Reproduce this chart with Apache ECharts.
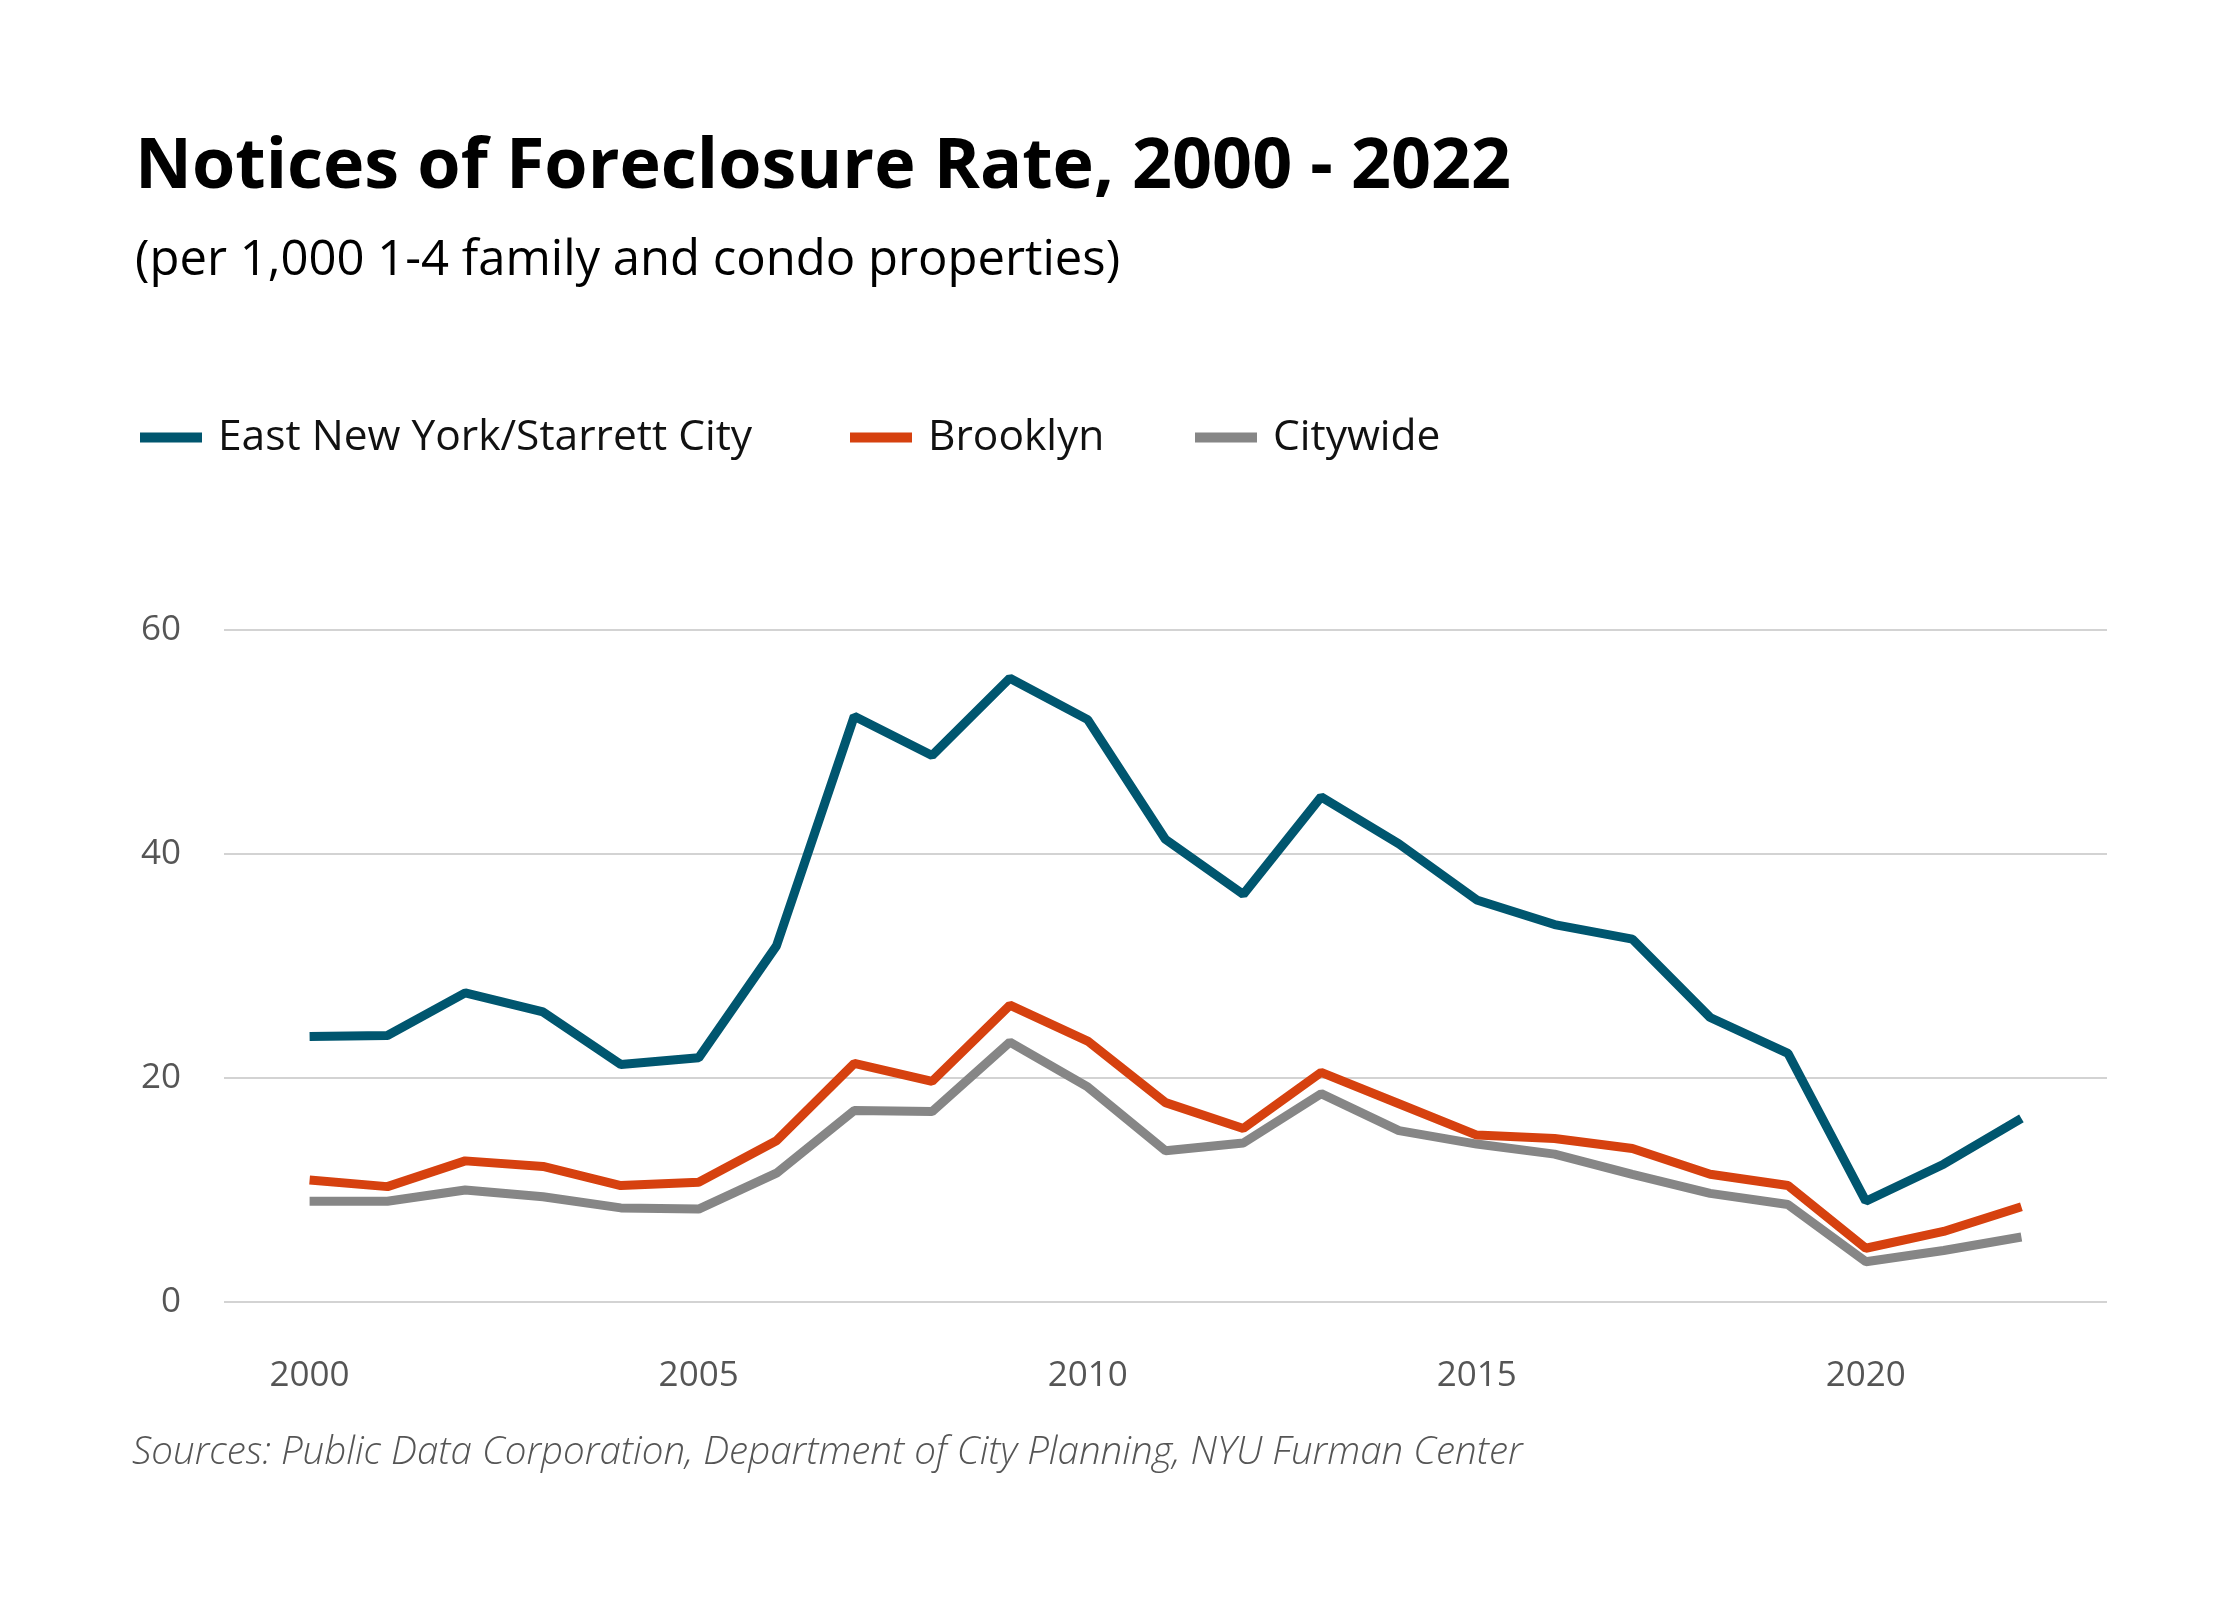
<!DOCTYPE html>
<html lang="en">
<head>
    <meta charset="UTF-8">
    <title>Notices of Foreclosure Rate</title>
    <script src="https://cdn.jsdelivr.net/npm/echarts@6/dist/echarts.min.js"></script>
    <style>
        html, body { margin: 0; padding: 0; background: #fff; }
        #main { width: 2240px; height: 1600px; }
    </style>
</head>
<body>
<div id="main"></div>
<script type="text/javascript">
    // data
    var years = [2000, 2001, 2002, 2003, 2004, 2005, 2006, 2007, 2008, 2009, 2010, 2011,
                 2012, 2013, 2014, 2015, 2016, 2017, 2018, 2019, 2020, 2021, 2022];
    var eastNewYork = [23.7, 23.8, 27.6, 25.9, 21.2, 21.8, 31.8, 52.3, 48.8, 55.7, 52.0, 41.3,
                       36.4, 45.1, 40.9, 35.9, 33.7, 32.4, 25.4, 22.2, 9.0, 12.3, 16.4];
    var brooklyn = [10.9, 10.3, 12.6, 12.1, 10.4, 10.7, 14.4, 21.3, 19.7, 26.5, 23.3, 17.8,
                    15.5, 20.5, 17.7, 14.9, 14.6, 13.7, 11.4, 10.4, 4.8, 6.3, 8.5];
    var citywide = [9.0, 9.0, 10.0, 9.4, 8.4, 8.3, 11.5, 17.1, 17.0, 23.2, 19.2, 13.5,
                    14.2, 18.6, 15.3, 14.1, 13.2, 11.4, 9.7, 8.7, 3.6, 4.6, 5.8];
    var yearTicks = [2000, 2005, 2010, 2015, 2020];
    var seriesNames = ['East New York/Starrett City', 'Brooklyn', 'Citywide'];
    var colors = ['#00566f', '#d6410f', '#868686'];

    var font = '"Open Sans", Lato, sans-serif';

    function pairs(vals) {
        return years.map(function (y, i) { return [y, vals[i]]; });
    }

    var myChart = echarts.init(document.getElementById('main'));

    var legendLeft = [135, 845, 1190];
    var legends = seriesNames.map(function (name, i) {
        return {
            data: [name],
            left: legendLeft[i],
            top: 411,
            icon: 'rect',
            itemWidth: 62,
            itemHeight: 10,
            itemGap: 0,
            textStyle: {
                fontFamily: font,
                fontSize: 42.5,
                color: '#111',
                padding: [0, 0, 0, 11]
            }
        };
    });

    var option = {
        animation: false,
        backgroundColor: '#ffffff',
        color: colors,
        title: [{
            text: 'Notices of Foreclosure Rate, 2000 - 2022',
            left: 130,
            top: 128,
            textStyle: { fontFamily: font, fontSize: 70, fontWeight: 'bold', color: '#000' }
        }, {
            text: '(per 1,000 1-4 family and condo properties)',
            left: 130,
            top: 232,
            textStyle: { fontFamily: font, fontSize: 49, fontWeight: 'normal', color: '#000' }
        }, {
            text: 'Sources: Public Data Corporation, Department of City Planning, NYU Furman Center',
            left: 127,
            top: 1429,
            textStyle: { fontFamily: font, fontSize: 38.5, fontStyle: 'italic', fontWeight: 300, color: '#555' }
        }],
        legend: legends,
        grid: {
            left: 224,
            right: 133,
            top: 630,
            bottom: 298,
            containLabel: false
        },
        xAxis: {
            type: 'value',
            min: 1998.9,
            max: 2023.1,
            axisLine: { show: false },
            axisTick: { show: false },
            splitLine: { show: false },
            axisLabel: {
                customValues: yearTicks,
                margin: 57,
                fontFamily: font,
                fontSize: 35,
                color: '#555',
                formatter: function (v) { return String(v); }
            }
        },
        yAxis: {
            type: 'value',
            min: 0,
            max: 60,
            interval: 20,
            axisLine: { show: false },
            axisTick: { show: false },
            axisLabel: {
                margin: 43,
                fontFamily: font,
                fontSize: 35,
                color: '#555'
            },
            splitLine: { lineStyle: { color: '#d3d3d3', width: 2 } }
        },
        series: [
            { name: seriesNames[0], type: 'line', data: pairs(eastNewYork), showSymbol: false,
              lineStyle: { width: 9, color: colors[0] }, itemStyle: { color: colors[0] } },
            { name: seriesNames[1], type: 'line', data: pairs(brooklyn), showSymbol: false,
              lineStyle: { width: 9, color: colors[1] }, itemStyle: { color: colors[1] } },
            { name: seriesNames[2], type: 'line', data: pairs(citywide), showSymbol: false, z: 1,
              lineStyle: { width: 9, color: colors[2] }, itemStyle: { color: colors[2] } }
        ]
    };
    myChart.setOption(option);
</script>
</body>
</html>
